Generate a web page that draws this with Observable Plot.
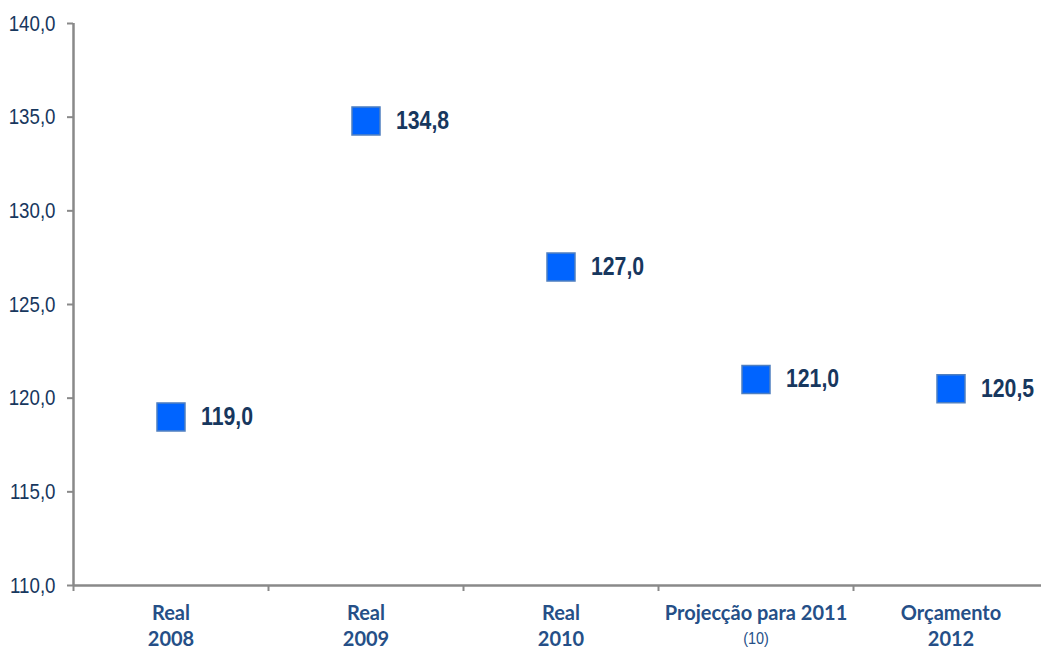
<!DOCTYPE html>
<html>
<head>
<meta charset="utf-8">
<script src="https://cdn.jsdelivr.net/npm/d3@7"></script>
<script src="https://cdn.jsdelivr.net/npm/@observablehq/plot@0.6"></script>
<style>
  html, body { margin: 0; padding: 0; background: #fff; }
  #chart { width: 1041px; height: 648px; overflow: hidden; }
</style>
</head>
<body>
<div id="chart"></div>
<script>
const categoryLine1 = ["Real", "Real", "Real", "Projecção para 2011", "Orçamento"];
const categoryLine2 = ["2008", "2009", "2010", "(10)", "2012"];
const values = [119.0, 134.8, 127.0, 121.0, 120.5];
const yTicks = [110, 115, 120, 125, 130, 135, 140];

const fmt = v => v.toFixed(1).replace(".", ",");
const data = values.map((v, i) => ({
  pos: i + 0.5,
  value: v,
  label: fmt(v),
  line1: categoryLine1[i],
  line2: categoryLine2[i],
  note: categoryLine2[i].startsWith("(")
}));
const boundaries = d3.range(categoryLine1.length + 1);

const axisGray = "#898989";
const sans = "'Liberation Sans', Arial, sans-serif";
const labelFont = "Lato, 'Open Sans', sans-serif";

const chart = Plot.plot({
  width: 1041,
  height: 648,
  marginLeft: 73,
  marginRight: -7,
  marginTop: 23,
  marginBottom: 63,
  style: { fontFamily: sans, background: "#fff", color: "#17375e" },
  x: { domain: [0, categoryLine1.length], axis: null, label: null },
  y: { domain: [110, 140], axis: null, label: null },
  marks: [
    Plot.axisY({
      ticks: yTicks,
      tickFormat: fmt,
      tickSize: 6,
      tickPadding: 12,
      stroke: axisGray,
      strokeWidth: 2,
      fill: "#17375e",
      fontSize: 22,
      fontFamily: sans,
      label: null,
      className: "condense"
    }),
    Plot.axisX({
      ticks: boundaries,
      tickFormat: () => "",
      tickSize: 6,
      stroke: axisGray,
      strokeWidth: 2,
      label: null
    }),
    Plot.ruleX([0], { stroke: axisGray, strokeWidth: 2.5 }),
    Plot.ruleY([110], { stroke: axisGray, strokeWidth: 2.5 }),
    Plot.dot(data, {
      x: "pos",
      y: "value",
      symbol: "square",
      r: 15.8,
      fill: "#0064ff",
      stroke: "#4f7fc0",
      strokeWidth: 1.5
    }),
    Plot.text(data, {
      x: "pos",
      y: "value",
      text: "label",
      dx: 30,
      textAnchor: "start",
      fontSize: 25,
      fontWeight: "bold",
      fontFamily: sans,
      fill: "#17375e",
      className: "condense"
    }),
    Plot.text(data, {
      x: "pos",
      frameAnchor: "bottom",
      text: "line1",
      dy: 34,
      fontSize: 20,
      fontWeight: "bold",
      fontFamily: labelFont,
      fill: "#254f87"
    }),
    Plot.text(data.filter(d => !d.note), {
      x: "pos",
      frameAnchor: "bottom",
      text: "line2",
      dy: 60,
      fontSize: 20,
      fontWeight: "bold",
      fontFamily: labelFont,
      fill: "#254f87"
    }),
    Plot.text(data.filter(d => d.note), {
      x: "pos",
      frameAnchor: "bottom",
      text: "line2",
      dy: 58,
      fontSize: 17,
      fontFamily: sans,
      fill: "#254f87",
      className: "condense"
    })
  ]
});
// condense text horizontally to mimic the narrow font of the original
chart.querySelectorAll(".condense text").forEach(t => {
  const tr = t.getAttribute("transform") || "";
  t.setAttribute("transform", tr + " scale(0.85,1)");
});
document.getElementById("chart").appendChild(chart);
</script>
</body>
</html>
